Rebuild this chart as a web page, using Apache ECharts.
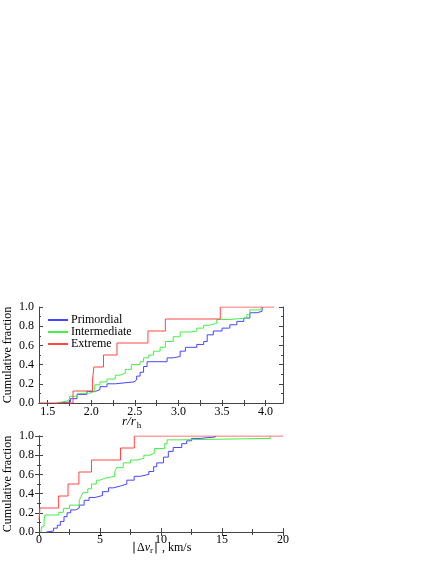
<!DOCTYPE html>
<html><head><meta charset="utf-8">
<script src="https://cdn.jsdelivr.net/npm/echarts@6/dist/echarts.min.js"></script>
<style>html,body{margin:0;padding:0;background:#fff}#c{width:436px;height:564px}</style>
</head><body><div id="c"></div>
<script>
// Top panel: r / r_h  — [jump position, cumulative fraction after jump]
var primordialR = [[1.62,0],[1.625,0.01],[1.76,0.045],[1.836,0.09],[1.95,0.12],[2.046,0.14],[2.10,0.17],[2.18,0.20],[2.275,0.22],[2.49,0.24],[2.52,0.28],[2.56,0.32],[2.60,0.38],[2.64,0.43],[2.87,0.47],[2.94,0.485],[3.02,0.54],[3.08,0.58],[3.21,0.61],[3.29,0.64],[3.33,0.71],[3.40,0.75],[3.50,0.78],[3.59,0.815],[3.67,0.85],[3.75,0.885],[3.82,0.94],[3.90,0.955],[3.96,1.0]];
var intermediateR = [[1.6,0],[1.61,0.02],[1.72,0.04],[1.75,0.07],[1.84,0.1],[1.97,0.12],[2.04,0.19],[2.10,0.22],[2.18,0.25],[2.275,0.29],[2.33,0.31],[2.39,0.35],[2.46,0.40],[2.56,0.43],[2.60,0.47],[2.66,0.50],[2.715,0.54],[2.79,0.58],[2.85,0.64],[2.94,0.69],[3.02,0.74],[3.15,0.75],[3.21,0.78],[3.29,0.81],[3.35,0.83],[3.44,0.87],[3.59,0.885],[3.785,0.92],[3.82,0.97],[3.94,0.99],[3.96,1.0]];
var extremeR = [[1.4,0],[1.79,0.125],[2.015,0.25],[2.03,0.375],[2.14,0.5],[2.295,0.625],[2.65,0.75],[2.85,0.875],[3.48,1.0],[4.1,1.0]];
// Bottom panel: |Δv_r| km/s
var primordialV = [[0.6,0],[0.7,0.01],[1.2,0.04],[1.5,0.07],[1.75,0.11],[2.05,0.16],[2.3,0.2],[2.6,0.23],[3.0,0.25],[3.3,0.28],[3.7,0.33],[4.1,0.36],[4.6,0.38],[5.2,0.42],[5.7,0.46],[6.1,0.48],[6.7,0.5],[7.2,0.54],[7.8,0.58],[8.3,0.6],[9.0,0.63],[9.4,0.68],[9.65,0.72],[10.2,0.78],[10.6,0.84],[11.0,0.88],[11.7,0.92],[12.1,0.95],[12.5,0.975],[13.2,0.99],[14.45,1.0]];
var intermediateV = [[0.15,0],[0.22,0.055],[0.41,0.125],[0.49,0.177],[1.62,0.205],[2.0,0.246],[2.5,0.28],[3.3,0.33],[3.45,0.37],[3.6,0.41],[4.0,0.45],[4.3,0.5],[4.7,0.54],[5.0,0.56],[5.4,0.58],[6.2,0.62],[6.35,0.67],[6.9,0.72],[7.5,0.75],[8.1,0.77],[8.6,0.80],[9.1,0.82],[9.45,0.87],[10.3,0.92],[10.5,0.96],[11.5,0.975],[18.95,1.0]];
var extremeV = [[0,0.125],[0.08,0.25],[1.59,0.375],[2.38,0.5],[3.27,0.625],[4.3,0.75],[6.68,0.875],[7.81,1.0],[20,1.0]];

var names = ['Primordial','Intermediate','Extreme'];
var colors = ['#4646ff','#46ee46','#ff4646'];
var rLabels = [1.5,2.0,2.5,3.0,3.5,4.0];
var rTicks = [1.5,1.75,2.0,2.25,2.5,2.75,3.0,3.25,3.5,3.75,4.0];

var FONT = 'Liberation Serif';
var axisLine = {show:true, lineStyle:{color:'#444', width:1}};
function yAx(grid, show){
  return {type:'value', gridIndex:grid, min:0, max:1, interval:0.2, position: show?'left':'right',
    axisLine:axisLine, splitLine:{show:false},
    axisTick:{show:true, inside:true, length:4, lineStyle:{color:'#444'}},
    minorTick:{show:true, splitNumber:2, length:2, lineStyle:{color:'#444'}},
    axisLabel:{show:show, margin:5, color:'#000', fontFamily:FONT, fontSize:12, formatter:function(v){return v.toFixed(1);}}};
}
function xR(grid, show){
  return {type:'value', gridIndex:grid, min:1.4, max:4.2, position: show?'bottom':'top',
    axisLine:axisLine, splitLine:{show:false},
    axisTick:{show:true, inside:true, length:3, customValues:rTicks, lineStyle:{color:'#444'}},
    axisLabel:{show:show, margin:3, customValues:rLabels, color:'#000', fontFamily:FONT, fontSize:12, formatter:function(v){return v.toFixed(1);}}};
}
function xV(grid, show){
  return {type:'value', gridIndex:grid, min:0, max:20, interval:5, position: show?'bottom':'top',
    axisLine:axisLine, splitLine:{show:false},
    axisTick:{show:true, inside:true, length:4, lineStyle:{color:'#444'}},
    minorTick:{show:true, splitNumber:2, length:3, lineStyle:{color:'#444'}},
    axisLabel:{show:show, margin:2, color:'#000', fontFamily:FONT, fontSize:12}};
}
function ser(i, data, xi, yi){
  return {name:names[i], type:'line', step:'end', data:data, xAxisIndex:xi, yAxisIndex:yi,
    showSymbol:false, symbol:'none', lineStyle:{width:1, color:colors[i]}, itemStyle:{color:colors[i]}, animation:false, z:2+i};
}

var chart = echarts.init(document.getElementById('c'), null, {renderer:'canvas'});
chart.setOption({
  backgroundColor:'#fff',
  animation:false,
  grid:[{left:39, top:307, width:244, height:96},{left:39, top:436, width:244, height:96}],
  xAxis:[xR(0,true), xR(0,false), xV(1,true), xV(1,false)],
  yAxis:[yAx(0,true), yAx(0,false), yAx(1,true), yAx(1,false)],
  legend:{data:names, orient:'vertical', left:43, top:309, itemWidth:20, itemHeight:2, itemGap:0,
    icon:'rect', textStyle:{fontFamily:FONT, fontSize:12, color:'#000', lineHeight:11.5, padding:[0,0,0,-2]}},
  graphic:[
    {type:'text', x:8, y:355, rotation:Math.PI/2, style:{text:'Cumulative fraction', font:'12px "Liberation Serif"', fill:'#000', align:'center', verticalAlign:'middle'}},
    {type:'text', x:8, y:484, rotation:Math.PI/2, style:{text:'Cumulative fraction', font:'12px "Liberation Serif"', fill:'#000', align:'center', verticalAlign:'middle'}},
    {type:'text', x:122, y:414, style:{rich:{i:{fontFamily:FONT, fontStyle:'italic', fontSize:13, fill:'#000'}, s:{fontFamily:FONT, fontSize:9, fill:'#000', padding:[7,0,0,1]}}, text:'{i|r/r}{s|h}'}},
    {type:'text', x:131, y:540, style:{rich:{n:{fontFamily:FONT, fontSize:12, fill:'#000'}, i:{fontFamily:FONT, fontStyle:'italic', fontSize:12, fill:'#000'}, s:{fontFamily:FONT, fontSize:9, fill:'#000', padding:[6,0,0,0]}}, text:'{n|\u2223\u0394}{i|v}{s|r}{n|\u2223 , km/s}'}}
  ],
  series:[
    ser(0, primordialR, 0, 0), ser(1, intermediateR, 0, 0), ser(2, extremeR, 0, 0),
    ser(0, primordialV, 2, 2), ser(1, intermediateV, 2, 2), ser(2, extremeV, 2, 2)
  ]
});
</script></body></html>
